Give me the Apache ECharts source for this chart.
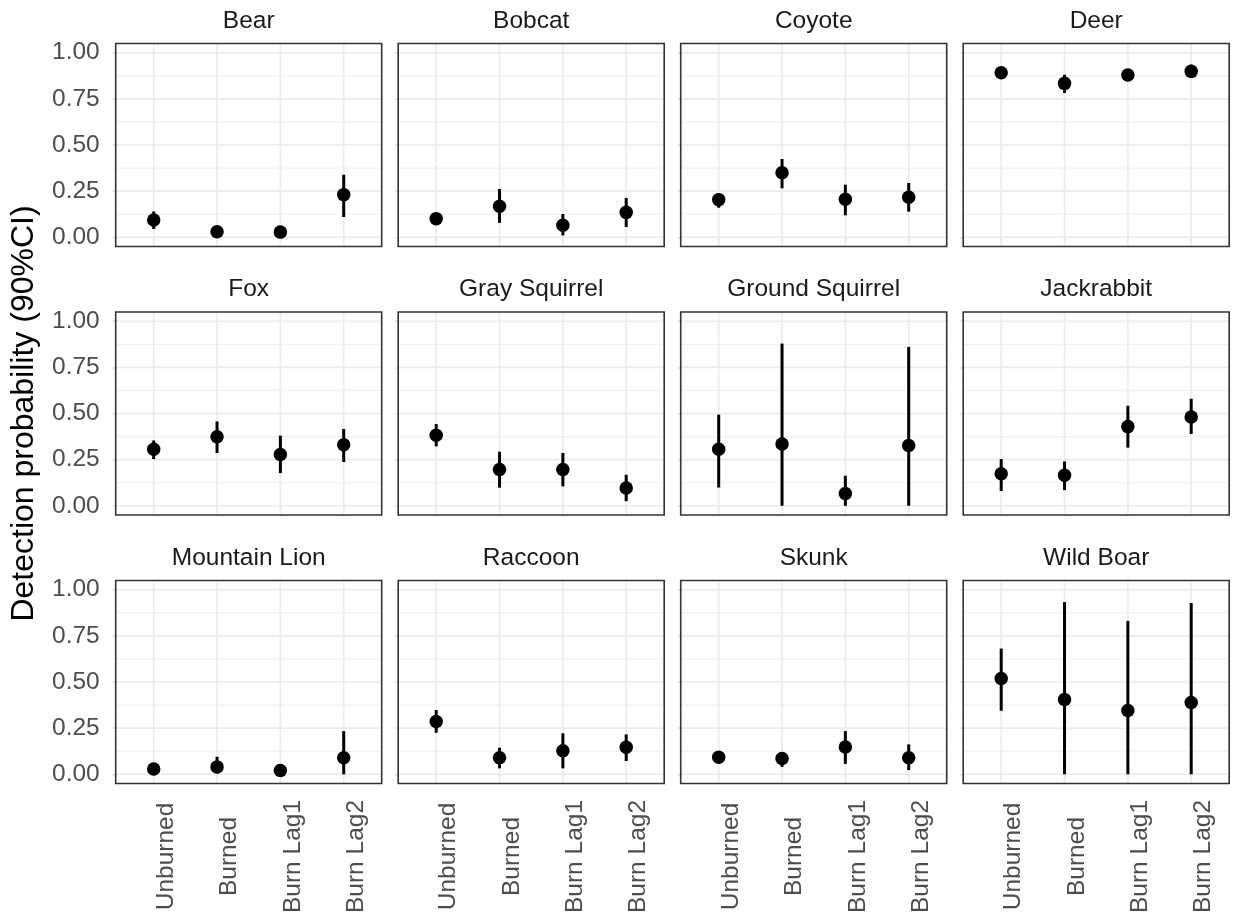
<!DOCTYPE html>
<html><head><meta charset="utf-8">
<script src="https://cdn.jsdelivr.net/npm/echarts@6/dist/echarts.min.js"></script>
<style>html,body{margin:0;padding:0;background:#fff}#c{width:1235px;height:920px}</style>
</head><body><div id="c"></div>
<script>
// ---- data ----
const categories = ['Unburned', 'Burned', 'Burn Lag1', 'Burn Lag2'];
const species = ['Bear', 'Bobcat', 'Coyote', 'Deer', 'Fox', 'Gray Squirrel', 'Ground Squirrel', 'Jackrabbit', 'Mountain Lion', 'Raccoon', 'Skunk', 'Wild Boar'];
const yTicks = [0, 0.25, 0.5, 0.75, 1];
const yTickLabels = ['0.00', '0.25', '0.50', '0.75', '1.00'];
const yMinorTicks = [0.125, 0.375, 0.625, 0.875];
const yTitle = 'Detection probability (90%CI)';

const bearEst = [0.094, 0.030, 0.028, 0.231];
const bearLow = [0.045, 0.015, 0.013, 0.110];
const bearHigh = [0.140, 0.050, 0.045, 0.339];
const bobcatEst = [0.101, 0.168, 0.065, 0.135];
const bobcatLow = [0.080, 0.078, 0.010, 0.056];
const bobcatHigh = [0.125, 0.262, 0.126, 0.213];
const coyoteEst = [0.204, 0.350, 0.206, 0.217];
const coyoteLow = [0.160, 0.265, 0.119, 0.139];
const coyoteHigh = [0.240, 0.424, 0.285, 0.294];
const deerEst = [0.892, 0.834, 0.879, 0.899];
const deerLow = [0.870, 0.782, 0.858, 0.863];
const deerHigh = [0.912, 0.881, 0.898, 0.935];
const foxEst = [0.306, 0.374, 0.278, 0.331];
const foxLow = [0.253, 0.286, 0.177, 0.237];
const foxHigh = [0.354, 0.457, 0.380, 0.416];
const graySquirrelEst = [0.382, 0.197, 0.197, 0.096];
const graySquirrelLow = [0.322, 0.098, 0.105, 0.025];
const graySquirrelHigh = [0.443, 0.293, 0.286, 0.168];
const groundSquirrelEst = [0.306, 0.335, 0.067, 0.327];
const groundSquirrelLow = [0.099, 0.000, 0.000, 0.000];
const groundSquirrelHigh = [0.494, 0.879, 0.163, 0.861];
const jackrabbitEst = [0.174, 0.165, 0.429, 0.481];
const jackrabbitLow = [0.080, 0.085, 0.315, 0.389];
const jackrabbitHigh = [0.253, 0.240, 0.542, 0.580];
const mountainLionEst = [0.029, 0.040, 0.020, 0.090];
const mountainLionLow = [0.012, 0.005, 0.008, 0.000];
const mountainLionHigh = [0.050, 0.095, 0.040, 0.234];
const raccoonEst = [0.286, 0.090, 0.128, 0.146];
const raccoonLow = [0.225, 0.032, 0.032, 0.072];
const raccoonHigh = [0.348, 0.144, 0.222, 0.216];
const skunkEst = [0.092, 0.085, 0.148, 0.090];
const skunkLow = [0.060, 0.040, 0.056, 0.023];
const skunkHigh = [0.120, 0.117, 0.234, 0.162];
const wildBoarEst = [0.519, 0.405, 0.346, 0.389];
const wildBoarLow = [0.344, 0.000, 0.000, 0.000];
const wildBoarHigh = [0.681, 0.933, 0.831, 0.928];

const estimates = [bearEst, bobcatEst, coyoteEst, deerEst, foxEst, graySquirrelEst, groundSquirrelEst, jackrabbitEst, mountainLionEst, raccoonEst, skunkEst, wildBoarEst];
const lows = [bearLow, bobcatLow, coyoteLow, deerLow, foxLow, graySquirrelLow, groundSquirrelLow, jackrabbitLow, mountainLionLow, raccoonLow, skunkLow, wildBoarLow];
const highs = [bearHigh, bobcatHigh, coyoteHigh, deerHigh, foxHigh, graySquirrelHigh, groundSquirrelHigh, jackrabbitHigh, mountainLionHigh, raccoonHigh, skunkHigh, wildBoarHigh];

// ---- layout / style ----
const FONT = '"Liberation Sans", Arial, Helvetica, sans-serif';
const NCOL = 4;
const panelLeft0 = 115.7, colStep = 282.5, panelW = 266;
const panelTop0 = 43.5, rowStep = 268.5, panelH = 203;
const xPos = categories.map((c, i) => i + 1);

const chart = echarts.init(document.getElementById('c'), null, {renderer: 'canvas'});

const grids = [], xAxes = [], yAxes = [], series = [], graphics = [];

species.forEach((sp, i) => {
  const col = i % NCOL, row = Math.floor(i / NCOL);
  const left = panelLeft0 + col * colStep;
  const top = panelTop0 + row * rowStep;
  grids.push({left: left, top: top, width: panelW, height: panelH, show: true,
    borderColor: '#333333', borderWidth: 1.6, backgroundColor: 'transparent', z: 3});
  xAxes.push({
    type: 'value', gridIndex: i, min: 0.4, max: 4.6,
    axisLine: {show: false}, splitLine: {show: false},
    axisTick: {show: true, customValues: xPos, length: 3, lineStyle: {color: '#DCDCDC', width: 1.5}},
    axisLabel: {show: row === 2, customValues: xPos,
      formatter: v => categories[Math.round(v) - 1],
      rotate: 90, align: 'center', verticalAlign: 'top', margin: 73,
      fontFamily: FONT, fontSize: 24.5, color: '#4D4D4D'}
  });
  yAxes.push({
    type: 'value', gridIndex: i, min: -0.05, max: 1.05,
    axisLine: {show: false}, splitLine: {show: false},
    axisTick: {show: true, customValues: yTicks, length: 3, lineStyle: {color: '#DCDCDC', width: 1.5}},
    axisLabel: {show: col === 0, customValues: yTicks,
      formatter: v => { const k = yTicks.findIndex(t => Math.abs(t - v) < 1e-9); return k >= 0 ? yTickLabels[k] : v.toFixed(2); },
      margin: 16, fontFamily: FONT, fontSize: 24.5, color: '#4D4D4D'}
  });

  // grid lines (drawn through the axes)
  const gridData = [];
  yTicks.forEach(v => gridData.push([0, v]));
  yMinorTicks.forEach(v => gridData.push([1, v]));
  xPos.forEach(v => gridData.push([2, v]));
  series.push({
    type: 'custom', xAxisIndex: i, yAxisIndex: i, z: 1, silent: true, clip: false,
    data: gridData,
    encode: {x: -1, y: -1},
    renderItem: (params, api) => {
      const kind = api.value(0), v = api.value(1);
      const cs = params.coordSys;
      if (kind === 2) {
        const p = api.coord([v, 0.5]);
        return {type: 'line', shape: {x1: p[0], y1: cs.y, x2: p[0], y2: cs.y + cs.height},
          style: {stroke: '#EBEBEB', lineWidth: 1.6}};
      }
      const p = api.coord([2.5, v]);
      return {type: 'line', shape: {x1: cs.x, y1: p[1], x2: cs.x + cs.width, y2: p[1]},
        style: {stroke: '#EBEBEB', lineWidth: kind === 0 ? 1.6 : 0.9}};
    }
  });

  // interval lines
  series.push({
    type: 'custom', xAxisIndex: i, yAxisIndex: i, z: 4, silent: true,
    data: xPos.map((x, k) => [x, lows[i][k], highs[i][k]]),
    encode: {x: 0, y: [1, 2]},
    renderItem: (params, api) => {
      const a = api.coord([api.value(0), api.value(1)]);
      const b = api.coord([api.value(0), api.value(2)]);
      return {type: 'line', shape: {x1: a[0], y1: a[1], x2: b[0], y2: b[1]},
        style: {stroke: '#000000', lineWidth: 3}};
    }
  });

  // point estimates
  series.push({
    type: 'scatter', xAxisIndex: i, yAxisIndex: i, z: 5, silent: true,
    symbol: 'circle', symbolSize: 13.5, itemStyle: {color: '#000000', opacity: 1},
    data: xPos.map((x, k) => [x, estimates[i][k]])
  });

  graphics.push({
    type: 'text', x: left + panelW / 2, y: top - 22.5, silent: true,
    style: {text: sp, textAlign: 'center', textVerticalAlign: 'middle',
      font: '24.5px ' + FONT, fill: '#1A1A1A'}
  });
});

graphics.push({
  type: 'text', x: 24, y: panelTop0 + (2 * rowStep + panelH) / 2, rotation: Math.PI / 2, silent: true,
  style: {text: yTitle, textAlign: 'center', textVerticalAlign: 'middle',
    font: '32px ' + FONT, fill: '#000000'}
});

chart.setOption({
  animation: false,
  backgroundColor: '#ffffff',
  grid: grids, xAxis: xAxes, yAxis: yAxes, series: series, graphic: graphics
});
</script>
</body></html>
